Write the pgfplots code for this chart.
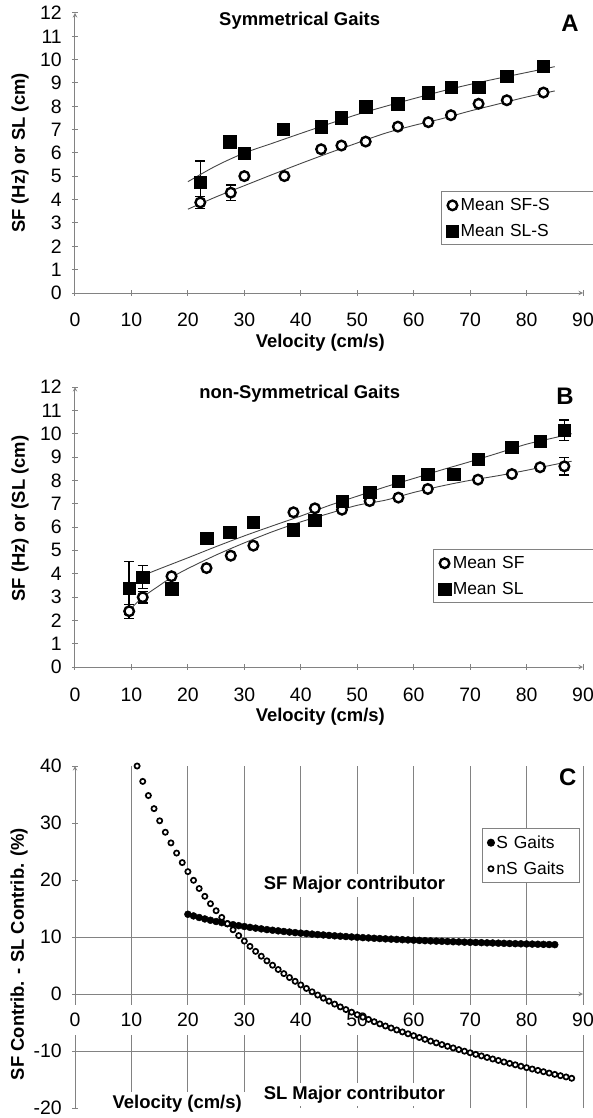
\documentclass[border=0pt]{standalone}
\usepackage{fontspec}
\setmainfont{Liberation Sans}
\usepackage{pgfplots}
\pgfplotsset{compat=1.18}

\definecolor{axgray}{RGB}{130,130,130}
\definecolor{fitgray}{RGB}{70,70,70}
\newcommand{\tk}{\fontsize{19.5}{22}\selectfont}
\newcommand{\lgd}{\fontsize{17.5}{20}\selectfont}
\newcommand{\bl}{\fontsize{18.5}{21}\selectfont\bfseries}

\pgfplotsset{
  gait/.style={
    scale only axis, width=508bp,
    xmin=0, xmax=90, xtick={0,10,...,90},
    axis line style={-, draw=axgray, line width=1bp},
    every inner x axis line/.append style={-}, every outer x axis line/.append style={-},
    every inner y axis line/.append style={-}, every outer y axis line/.append style={-},
    tick style={draw=axgray, line width=1bp},
    major tick length=5.5bp, tick align=outside,
    tick label style={font=\tk},
    /pgf/number format/assume math mode=true,
    xticklabel style={anchor=center},
    yticklabel style={anchor=east, xshift=-7bp},
    every axis y label/.style={at={(axis description cs:-0.108,0.5)}, rotate=90, anchor=center, font=\bl},
    every axis x label/.style={at={(axis description cs:0.483,0)}, anchor=center, yshift=-50bp, font=\bl},
    legend cell align=left,
    legend style={anchor=north west, draw=axgray, line width=1bp, font=\lgd,
      row sep=8bp, inner xsep=5bp, inner ysep=5bp,
      /tikz/every even column/.append style={text width=135bp}},
  },
  circ/.style={only marks, mark=*, mark size=4.8bp, mark options={fill=white, draw=black, line width=2.4bp}},
  sqr/.style={only marks, mark=square*, mark size=6.2bp, mark options={fill=black, draw=black, line width=0.4bp}},
  fit/.style={fitgray, line width=0.9bp, smooth, no marks, forget plot},
  ebar/.style={only marks, mark=none, forget plot, error bars/.cd, y dir=both, y explicit,
    error bar style={black, line width=1.4bp},
    error mark options={black, rotate=90, mark size=5bp, line width=1.4bp}},
}

\begin{document}
\begin{tikzpicture}

% ---------------- A ----------------
\begin{axis}[gait, at={(0bp,0bp)}, anchor=south west, height=280bp,
  axis x line=bottom, axis y line=left,
  ymin=0, ymax=12, ytick={0,1,...,12},
  xticklabel style={yshift=-24bp},
  xlabel={Velocity (cm/s)}, ylabel={SF (Hz) or SL (cm)},
  legend style={at={(axis cs:64.8,4.37)}},
  clip=false]
\addplot[ebar] table[x=x, y=y, y error=e] {
x y e
22.2 4.75 0.90
22.2 3.88 0.25
27.6 4.30 0.33
};
\addplot[fit] coordinates {(20,3.59) (25,4.12) (30,4.60) (35,5.08) (40,5.55) (45,6.00) (50,6.43) (55,6.85) (60,7.18) (65,7.47) (70,7.80) (75,8.10) (80,8.40) (85,8.66)};
\addplot[fit] coordinates {(20,4.77) (25,5.45) (30,6.00) (35,6.42) (40,6.84) (45,7.25) (50,7.65) (55,8.00) (60,8.33) (65,8.65) (70,8.94) (75,9.20) (80,9.45) (85,9.70)};
\addplot[circ] coordinates {(22.2,3.88) (27.6,4.30) (30.0,5.01) (37.1,5.01) (43.6,6.16) (47.2,6.32) (51.5,6.49) (57.2,7.13) (62.6,7.32) (66.6,7.62) (71.5,8.11) (76.5,8.26) (83.0,8.59)};
\addlegendentry{Mean SF-S}
\addplot[sqr] coordinates {(22.2,4.75) (27.4,6.49) (30.0,5.99) (36.9,7.02) (43.6,7.13) (47.2,7.52) (51.5,7.99) (57.2,8.11) (62.6,8.59) (66.6,8.81) (71.5,8.82) (76.5,9.28) (83.0,9.71)};
\addlegendentry{Mean SL-S}
\node[font=\bl] at (axis cs:39.8,11.67) {Symmetrical Gaits};
\node[font=\fontsize{24}{27}\selectfont\bfseries] at (axis cs:87.7,11.57) {A};
\end{axis}

% ---------------- B ----------------
\begin{axis}[gait, at={(0bp,-374bp)}, anchor=south west, height=280bp,
  axis x line=bottom, axis y line=left,
  ymin=0, ymax=12, ytick={0,1,...,12},
  xticklabel style={yshift=-25bp},
  xlabel={Velocity (cm/s)}, ylabel={SF (Hz) or (SL (cm)},
  every axis y label/.append style={at={(axis description cs:-0.108,0.53)}},
  legend style={at={(axis cs:63.4,5.06)}},
  clip=false]
\addplot[ebar] table[x=x, y=y, y error=e] {
x y e
9.6 3.39 1.12
9.6 2.39 0.30
12.0 3.86 0.50
12.0 2.99 0.25
86.7 10.14 0.44
86.7 8.60 0.37
};
\addplot[fit] coordinates {(9.6,2.42) (12,2.99) (15,3.50) (17.1,3.84) (20,4.22) (25,4.80) (30,5.32) (35,5.80) (40,6.22) (45,6.58) (50,6.93) (55,7.15) (60,7.48) (65,7.76) (70,8.00) (75,8.20) (80,8.43) (85,8.68) (88,8.82)};
\addplot[fit] coordinates {(12,3.92) (15,4.21) (20,4.68) (25,5.16) (30,5.62) (35,6.05) (40,6.47) (45,6.92) (50,7.32) (55,7.72) (60,8.08) (65,8.45) (70,8.80) (75,9.17) (80,9.55) (85,9.83) (88,10.00)};
\addplot[circ] coordinates {(9.6,2.39) (12.0,2.99) (17.1,3.89) (23.3,4.24) (27.6,4.77) (31.6,5.20) (38.7,6.63) (42.5,6.80) (47.3,6.74) (52.2,7.11) (57.3,7.26) (62.5,7.63) (71.4,8.03) (77.4,8.27) (82.4,8.56) (86.7,8.60)};
\addlegendentry{Mean SF}
\addplot[sqr] coordinates {(9.6,3.39) (12.0,3.86) (17.1,3.36) (23.3,5.53) (27.4,5.77) (31.6,6.20) (38.7,5.89) (42.5,6.29) (47.3,7.11) (52.2,7.50) (57.3,7.96) (62.5,8.27) (67.1,8.27) (71.4,8.91) (77.4,9.43) (82.4,9.69) (86.7,10.14)};
\addlegendentry{Mean SL}
\node[font=\bl] at (axis cs:39.8,11.7) {non-Symmetrical Gaits};
\node[font=\fontsize{24}{27}\selectfont\bfseries] at (axis cs:86.8,11.59) {B};
\end{axis}

% ---------------- C ----------------
\begin{axis}[gait, at={(0bp,-815bp)}, anchor=south west, height=342bp,
  axis x line=middle, axis y line=left,
  hide obscured y ticks=false,
  ymin=-20, ymax=40, ytick={-20,-10,...,40},
  xticklabels={},
  xmajorgrids, grid style={draw=axgray, line width=1bp},
  extra y ticks={-10,10}, extra y tick labels={},
  extra y tick style={ymajorgrids, major tick length=0pt},
  ylabel={SF Contrib. - SL Contrib. (\%)},
  every axis y label/.append style={at={(axis description cs:-0.110,0.45)}},
  legend style={at={(axis cs:72.1,29.1)}, /tikz/every even column/.append style={text width=76bp}},
  clip=false]
\addplot[only marks, mark=*, mark size=3.5bp, black] coordinates {
(20,13.99) (21,13.70) (22,13.42) (23,13.17) (24,12.94) (25,12.72) (26,12.52) (27,12.33) (28,12.16) (29,11.99)
(30,11.84) (31,11.69) (32,11.56) (33,11.43) (34,11.30) (35,11.19) (36,11.08) (37,10.97) (38,10.87) (39,10.77)
(40,10.68) (41,10.60) (42,10.51) (43,10.43) (44,10.36) (45,10.28) (46,10.21) (47,10.14) (48,10.08) (49,10.01)
(50,9.95) (51,9.89) (52,9.84) (53,9.78) (54,9.73) (55,9.68) (56,9.63) (57,9.58) (58,9.53) (59,9.49)
(60,9.45) (61,9.40) (62,9.36) (63,9.32) (64,9.28) (65,9.25) (66,9.21) (67,9.17) (68,9.14) (69,9.10)
(70,9.07) (71,9.04) (72,9.01) (73,8.98) (74,8.95) (75,8.92) (76,8.89) (77,8.86) (78,8.83) (79,8.81)
(80,8.78) (81,8.76) (82,8.73) (83,8.71) (84,8.68) (85,8.66)};
\addlegendentry{S Gaits}
\addplot[only marks, mark=*, mark size=2.6bp, mark options={fill=white, draw=black, line width=1.7bp}] coordinates {
(11,40.00) (12,37.30) (13,34.82) (14,32.52) (15,30.39) (16,28.38) (17,26.51) (18,24.73) (19,23.06) (20,21.47)
(21,19.95) (22,18.51) (23,17.14) (24,15.84) (25,14.61) (26,13.44) (27,12.33) (28,11.27) (29,10.25) (30,9.29)
(31,8.36) (32,7.48) (33,6.63) (34,5.82) (35,5.05) (36,4.30) (37,3.58) (38,2.89) (39,2.23) (40,1.59)
(41,0.98) (42,0.39) (43,-0.18) (44,-0.73) (45,-1.26) (46,-1.77) (47,-2.26) (48,-2.73) (49,-3.19) (50,-3.63)
(51,-4.05) (52,-4.46) (53,-4.86) (54,-5.24) (55,-5.61) (56,-5.96) (57,-6.31) (58,-6.65) (59,-6.98) (60,-7.31)
(61,-7.63) (62,-7.95) (63,-8.26) (64,-8.57) (65,-8.87) (66,-9.17) (67,-9.46) (68,-9.75) (69,-10.03) (70,-10.31)
(71,-10.59) (72,-10.86) (73,-11.13) (74,-11.40) (75,-11.66) (76,-11.92) (77,-12.17) (78,-12.42) (79,-12.67) (80,-12.92)
(81,-13.16) (82,-13.40) (83,-13.63) (84,-13.87) (85,-14.10) (86,-14.33) (87,-14.55) (88,-14.78)};
\addlegendentry{nS Gaits}
% x tick labels drawn after the data so their white boxes cover it, as in the original
\pgfplotsinvokeforeach{0,10,20,30,40,50,60,70,80,90}{
  \node[font=\tk, fill=white, inner xsep=1bp, inner ysep=8bp, yshift=-26bp] at (axis cs:#1,0) {#1};
}
\node[font=\bl, fill=white, inner sep=3bp] at (axis cs:49.5,19.1) {SF Major contributor};
\node[font=\bl, fill=white, inner sep=3bp] at (axis cs:49.5,-17.7) {SL Major contributor};
\node[font=\bl, fill=white, inner sep=3bp] at (axis cs:18.1,-19.3) {Velocity (cm/s)};
\node[font=\fontsize{24}{27}\selectfont\bfseries, fill=white, inner sep=4bp] at (axis cs:87.3,38.1) {C};
\end{axis}

\pgfresetboundingbox
\useasboundingbox (-75bp,-825bp) rectangle (518bp,293bp);
\end{tikzpicture}
\end{document}
